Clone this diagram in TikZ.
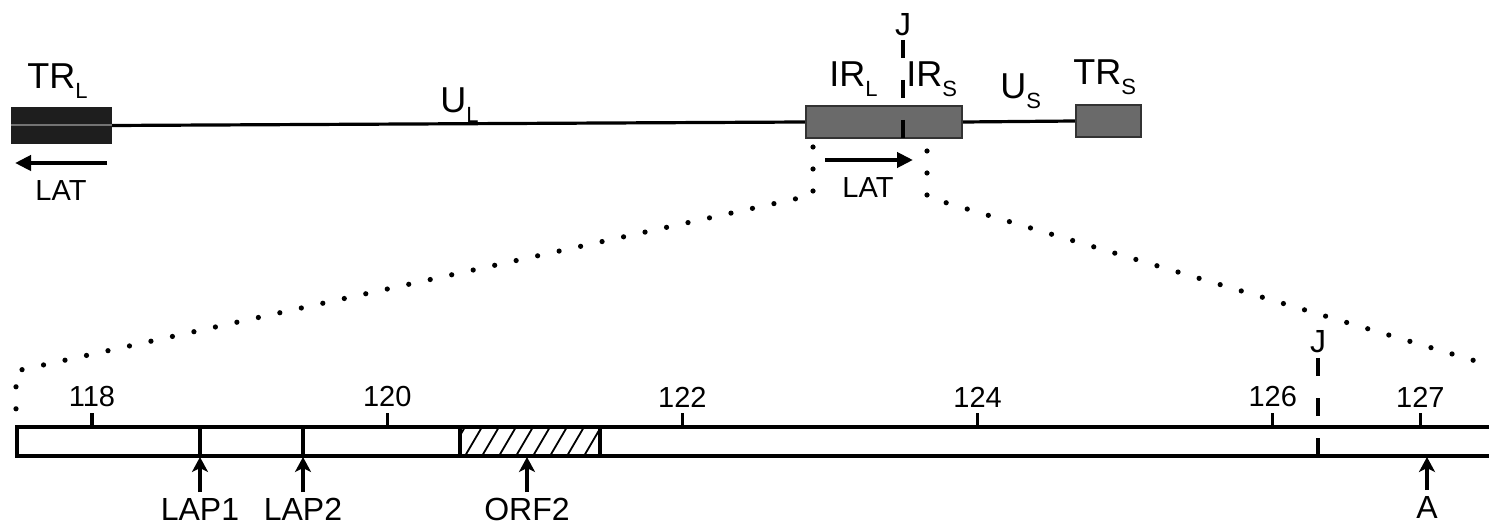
\documentclass[tikz,border=0pt]{standalone}
\usepackage{fontspec}
\setmainfont{Liberation Sans}
\usepackage{xcolor}
\usepackage{tikz}
\usetikzlibrary{arrows.meta}
\definecolor{trDark}{HTML}{1E1E1E}
\definecolor{irGrey}{HTML}{6A6A6A}
\definecolor{irEdge}{HTML}{333333}
\newcommand{\lowidx}[1]{\raisebox{-5pt}{\fontsize{11}{11}\selectfont #1}}

\begin{document}
\begin{tikzpicture}[x=0.5pt, y=-0.5pt,
    region/.style={font=\fontsize{18}{18}\selectfont, inner sep=0pt, anchor=base west},
    latlbl/.style={font=\fontsize{14.5}{14.5}\selectfont, inner sep=0pt},
    kblbl/.style={font=\fontsize{14.5}{14.5}\selectfont, inner sep=0pt},
    sitelbl/.style={font=\fontsize{16}{16}\selectfont, inner sep=0pt, anchor=north},
    latarrow/.style={-{Triangle[length=8pt,width=7.5pt]}, line width=2pt},
    sitearrow/.style={-{Stealth[length=7.5pt,width=8pt,inset=2pt]}, line width=1.8pt},
    zoomdots/.style={line width=2.6pt, line cap=round, dash pattern=on 0pt off 11pt},
    jdash/.style={line width=1.8pt, dash pattern=on 9pt off 11pt},
    segbox/.style={inner sep=0pt, line width=1.2pt}]
    \useasboundingbox (0,0) rectangle (1489,529);

    % genome
    \node[segbox, fill=trDark, draw=trDark, minimum width=49.5pt, minimum height=17.5pt] (trl) at (61.5,125.5) {};
    \node[segbox, fill=irGrey, draw=irEdge, minimum width=78pt, minimum height=16pt] (ir) at (884,122) {};
    \node[segbox, fill=irGrey, draw=irEdge, minimum width=32.5pt, minimum height=16pt] (trs) at (1108.5,121) {};
    \draw[black!55, line width=1pt] (trl.west) -- (trl.east);
    \draw[line width=1.6pt] (trl.east) -- (ir.west);
    \draw[line width=1.6pt] (ir.east) -- (trs.west);

    \node[region] (trl-lbl) at (27,89) {TR\lowidx{L}};
    \node[region] (ul-lbl) at (440,113) {U\lowidx{L}};
    \node[region] (irl-lbl) at (829,87) {IR\lowidx{L}};
    \node[region] (irs-lbl) at (906,87) {IR\lowidx{S}};
    \node[region] (us-lbl) at (1000,99) {U\lowidx{S}};
    \node[region] (trs-lbl) at (1073,85) {TR\lowidx{S}};

    \node[kblbl, font=\fontsize{16}{16}\selectfont] (jtop) at (903,25) {J};
    \draw[jdash] (903,40) -- (jtop.south |- ir.south);

    % LAT
    \coordinate (latl-from) at (107,163);
    \coordinate (latl-to) at (15,163);
    \draw[latarrow] (latl-from) -- (latl-to);
    \node[latlbl] (latl) at (61,191) {LAT};
    \coordinate (latr-from) at (825,160);
    \coordinate (latr-to) at (913,160);
    \draw[latarrow] (latr-from) -- (latr-to);
    \node[latlbl] (latr) at (868,188) {LAT};

    % expansion
    \draw[zoomdots] (813,147) -- (813,195) -- (16,371) -- (16,428);
    \draw[zoomdots] (927,151) -- (927,197) -- (1489,365);

    % map
    \draw[line width=1.8pt] (1489,427) -- (17,427) -- (17,456) -- (1489,456);
    \draw[line width=1.8pt] (200,427) -- (200,456);
    \draw[line width=1.8pt] (303,427) -- (303,456);
    \begin{scope}
        \clip (460,427) rectangle (600,456);
        \foreach \hx in {448,465,...,602}
            \draw[line width=0.9pt] (\hx,456) -- ++(17,-29);
    \end{scope}
    \draw[line width=1.8pt] (460,427) rectangle (600,456);

    \foreach \k in {118,120,122,124,126,127} {
        \pgfmathsetmacro{\tx}{92+(\k-118)*147.6}
        \draw[line width=1.6pt] (\tx,413) -- (\tx,427);
        \node[kblbl] (kb\k) at (\tx,397) {\k};
    }

    \node[kblbl, font=\fontsize{16}{16}\selectfont] (jbot) at (1318,342) {J};
    \draw[jdash] (1318,358) -- (jbot.south |- 0,456);

    \node[sitelbl] (lap1) at (200,498) {LAP1};
    \node[sitelbl] (lap2) at (303,498) {LAP2};
    \node[sitelbl] (orf2) at (527,498) {ORF2};
    \node[sitelbl] (polya) at (1427,496) {A};
    \foreach \s in {lap1,lap2,orf2,polya}
        \draw[sitearrow] ([yshift=3pt]\s.north) -- (\s.north |- 0,457);
\end{tikzpicture}
\end{document}
